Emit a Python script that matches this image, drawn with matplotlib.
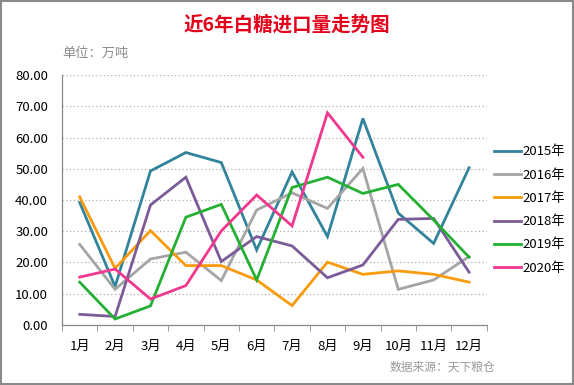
import numpy as np
import matplotlib.pyplot as plt
from matplotlib.patches import Rectangle

plt.rcParams['font.family'] = ['Noto Sans CJK SC', 'DejaVu Sans']

# Data (万吨)
months = ['1月', '2月', '3月', '4月', '5月', '6月', '7月', '8月', '9月', '10月', '11月', '12月']
y2015 = [39.2, 12.3, 49.3, 55.2, 52.0, 24.0, 49.0, 28.3, 66.1, 35.8, 26.1, 50.3]
y2016 = [25.8, 11.4, 21.1, 23.3, 14.2, 36.8, 42.3, 37.3, 50.1, 11.4, 14.4, 21.9]
y2017 = [41.0, 18.1, 30.2, 19.0, 19.0, 14.4, 6.2, 20.1, 16.2, 17.3, 16.2, 13.7]
y2018 = [3.4, 2.7, 38.4, 47.3, 20.3, 28.3, 25.3, 15.1, 19.2, 33.8, 34.1, 16.9]
y2019 = [13.7, 1.9, 6.1, 34.5, 38.6, 14.4, 44.0, 47.3, 42.1, 45.0, 33.6, 21.7]
y2020 = [15.3, 17.9, 8.3, 12.6, 30.1, 41.6, 31.7, 67.9, 53.7]

series = [('2015年', y2015, '#31849b'),
          ('2016年', y2016, '#a5a5a5'),
          ('2017年', y2017, '#f99b0c'),
          ('2018年', y2018, '#7b5c98'),
          ('2019年', y2019, '#24b033'),
          ('2020年', y2020, '#f0388f')]

fig = plt.figure(figsize=(5.74, 3.85), dpi=100)
ax = fig.add_axes([0.108, 0.156, 0.740, 0.649])

for name, vals, col in series:
    ax.plot(np.arange(len(vals)), vals, color=col, lw=2.0, label=name,
            solid_joinstyle='miter')

ax.set_xlim(-0.5, 11.5)
ax.set_ylim(0, 80)
ax.set_yticks(np.arange(0, 81, 10))
ax.set_yticklabels([f'{v:.2f}' for v in np.arange(0, 81, 10)])
ax.set_xticks(np.arange(12))
ax.set_xticklabels(months)
ax.set_xticks(np.arange(-0.5, 12, 1), minor=True)
ax.tick_params(axis='x', which='major', length=0, pad=11, labelsize=9.5)
ax.tick_params(axis='x', which='minor', length=4, color='#888888')
ax.tick_params(axis='y', length=0, pad=10, labelsize=9.5)

ax.grid(axis='y', linestyle=(0, (1, 2)), color='#b0b0b0', lw=0.9)
ax.set_axisbelow(True)
for s in ['top', 'right']:
    ax.spines[s].set_visible(False)
for s in ['left', 'bottom']:
    ax.spines[s].set_color('#888888')
    ax.spines[s].set_linewidth(0.9)

leg = ax.legend(loc='center left', bbox_to_anchor=(0.99, 0.46), frameon=False,
                fontsize=9.5, handlelength=2.0, handletextpad=0.1, labelspacing=0.78)

fig.text(0.5, 0.935, '近6年白糖进口量走势图', ha='center', va='center',
         color='#e3001b', fontsize=14, fontweight='bold')
fig.text(0.108, 0.862, '单位：万吨', ha='left', va='center', color='#8c8c8c', fontsize=9.5)
fig.text(0.862, 0.045, '数据来源：天下粮仓', ha='right', va='center', color='#9a9a9a',
         fontsize=8.5, style='italic')

fig.patches.append(Rectangle((0.001, 0.002), 0.997, 0.995, transform=fig.transFigure,
                             fill=False, edgecolor='#8a8a8a', lw=1.5))

fig.savefig('out.png', dpi=100)
